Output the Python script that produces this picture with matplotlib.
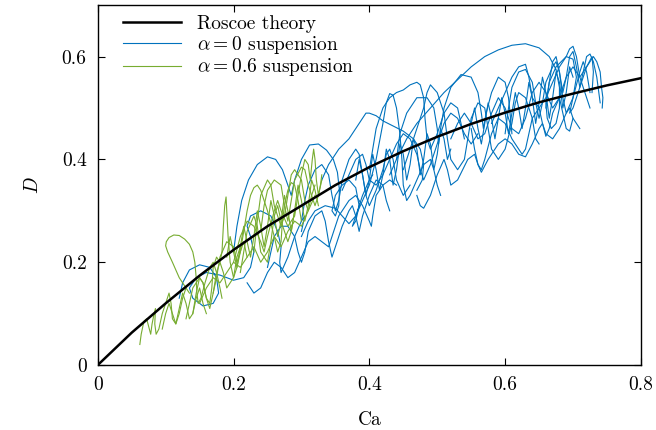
import matplotlib
matplotlib.use('Agg')
import matplotlib.pyplot as plt

plt.rcParams['font.family'] = ['cmr10', 'DejaVu Serif']
plt.rcParams['mathtext.fontset'] = 'cm'
plt.rcParams['axes.unicode_minus'] = False
plt.rcParams['axes.formatter.use_mathtext'] = True

# Roscoe theory curve
theory_ca = [0, 0.05, 0.1, 0.15, 0.2, 0.25, 0.3, 0.35, 0.4, 0.45, 0.5, 0.55, 0.6, 0.65, 0.7, 0.75, 0.8]
theory_d = [0, 0.063, 0.12, 0.174, 0.224, 0.27, 0.31, 0.35, 0.385, 0.416, 0.444, 0.469, 0.491, 0.511, 0.528, 0.544, 0.558]

# alpha = 0 suspension, one list per capsule
blue_ca = [
    [0.43, 0.44, 0.455, 0.47, 0.49, 0.51, 0.53, 0.55, 0.57, 0.59, 0.61, 0.63, 0.65, 0.665, 0.675, 0.68, 0.68, 0.675,
     0.668, 0.662, 0.66, 0.665, 0.675, 0.69, 0.70, 0.705, 0.70, 0.695, 0.70, 0.71, 0.72, 0.728, 0.73, 0.728],
    [0.12, 0.125, 0.135, 0.15, 0.165, 0.175, 0.178, 0.17, 0.155, 0.14, 0.135, 0.145, 0.16, 0.18, 0.2, 0.215, 0.225,
     0.23, 0.225, 0.22, 0.225, 0.24, 0.255, 0.265, 0.27, 0.268, 0.27, 0.28, 0.29, 0.30, 0.305, 0.30],
    [0.20, 0.205, 0.212, 0.222, 0.235, 0.25, 0.262, 0.272, 0.28, 0.285, 0.29, 0.30, 0.312, 0.325, 0.337, 0.347, 0.353,
     0.356, 0.355, 0.35, 0.345, 0.35, 0.36, 0.37, 0.38, 0.385, 0.38, 0.375, 0.38, 0.39, 0.40, 0.405],
    [0.30, 0.31, 0.32, 0.335, 0.35, 0.36, 0.37, 0.38, 0.39, 0.40, 0.41, 0.42, 0.425, 0.43, 0.435, 0.44, 0.445, 0.448,
     0.45, 0.455, 0.46, 0.47, 0.48, 0.49, 0.495, 0.5, 0.505],
    [0.33, 0.34, 0.355, 0.37, 0.38, 0.39, 0.395, 0.40, 0.41, 0.42, 0.435, 0.45, 0.465, 0.475, 0.48, 0.478, 0.47],
    [0.45, 0.46, 0.47, 0.48, 0.485, 0.49, 0.50, 0.51, 0.515, 0.52, 0.53, 0.54, 0.545, 0.55, 0.56, 0.57, 0.575, 0.58,
     0.59, 0.60, 0.61, 0.615, 0.62, 0.63, 0.64, 0.645, 0.65],
    [0.47, 0.475, 0.48, 0.49, 0.50, 0.51, 0.515, 0.52, 0.53, 0.545, 0.555, 0.56, 0.565, 0.575, 0.59, 0.60, 0.61, 0.62,
     0.63, 0.64, 0.65, 0.655, 0.66, 0.67, 0.68, 0.69, 0.695, 0.70, 0.71],
    [0.58, 0.59, 0.60, 0.61, 0.62, 0.63, 0.635, 0.64, 0.65, 0.66, 0.67, 0.68, 0.69, 0.695, 0.70, 0.705, 0.71, 0.72,
     0.73, 0.735, 0.74, 0.742, 0.744, 0.743],
    [0.22, 0.23, 0.24, 0.25, 0.26, 0.27, 0.28, 0.29, 0.30, 0.31, 0.32, 0.33, 0.34, 0.345, 0.35, 0.355, 0.36, 0.37,
     0.38, 0.39, 0.40, 0.403, 0.405, 0.41, 0.42, 0.43, 0.44],
    [0.36, 0.37, 0.38, 0.39, 0.395, 0.40, 0.41, 0.42, 0.43, 0.44, 0.45, 0.46, 0.47, 0.475, 0.48, 0.49, 0.50, 0.51,
     0.52, 0.53, 0.54, 0.55, 0.56],
    [0.52, 0.53, 0.54, 0.55, 0.56, 0.57, 0.58, 0.59, 0.60, 0.61, 0.62, 0.63, 0.64, 0.65, 0.66, 0.67, 0.68, 0.69,
     0.70, 0.71, 0.72, 0.725],
    [0.38, 0.385, 0.39, 0.395, 0.40, 0.405, 0.41, 0.415, 0.42, 0.425, 0.43, 0.435, 0.44, 0.445, 0.45, 0.455, 0.46,
     0.465, 0.47, 0.475, 0.48, 0.485, 0.49, 0.495, 0.50, 0.505, 0.51, 0.515, 0.52],
    [0.55, 0.555, 0.56, 0.565, 0.57, 0.575, 0.58, 0.585, 0.59, 0.595, 0.60, 0.605, 0.61, 0.615, 0.62, 0.625, 0.63,
     0.635, 0.64, 0.645, 0.65, 0.655, 0.66, 0.665, 0.67, 0.675, 0.68, 0.685, 0.69, 0.695, 0.70],
    [0.44, 0.445, 0.455, 0.47, 0.485, 0.495, 0.5, 0.502, 0.505, 0.51, 0.52, 0.535, 0.55, 0.56, 0.565, 0.568, 0.572,
     0.58, 0.59, 0.60, 0.605, 0.608, 0.61],
    [0.25, 0.255, 0.26, 0.27, 0.28, 0.29, 0.295, 0.30, 0.305, 0.31, 0.32, 0.33, 0.335, 0.34, 0.345, 0.35, 0.36, 0.37,
     0.375, 0.38, 0.385, 0.39, 0.40, 0.41, 0.42, 0.425, 0.43],
    [0.40, 0.405, 0.41, 0.42, 0.43, 0.44, 0.45, 0.46, 0.47, 0.475, 0.48, 0.482, 0.485, 0.49, 0.50, 0.51, 0.52, 0.53,
     0.535, 0.54],
    [0.66, 0.665, 0.67, 0.675, 0.68, 0.685, 0.69, 0.695, 0.70, 0.705, 0.71, 0.715, 0.72, 0.725, 0.73, 0.735, 0.738,
     0.74],
    [0.55, 0.555, 0.56, 0.565, 0.57, 0.58, 0.59, 0.60, 0.61, 0.62, 0.625, 0.63, 0.635, 0.64, 0.65, 0.655, 0.66, 0.665,
     0.67, 0.68, 0.685, 0.69, 0.695, 0.70],
    [0.30, 0.305, 0.31, 0.32, 0.33, 0.34, 0.345, 0.35, 0.355, 0.36, 0.37, 0.38, 0.385, 0.39, 0.395, 0.40, 0.41, 0.42,
     0.425, 0.43, 0.435, 0.44, 0.45, 0.46],
    [0.60, 0.605, 0.61, 0.62, 0.63, 0.64, 0.645, 0.65, 0.655, 0.66, 0.67, 0.675, 0.68, 0.685, 0.69, 0.70, 0.71, 0.715,
     0.72, 0.725],
]
blue_d = [
    [0.37, 0.40, 0.44, 0.47, 0.50, 0.53, 0.555, 0.58, 0.60, 0.613, 0.622, 0.625, 0.617, 0.60, 0.575, 0.54, 0.50, 0.47,
     0.46, 0.48, 0.51, 0.55, 0.58, 0.60, 0.595, 0.56, 0.52, 0.49, 0.50, 0.54, 0.58, 0.60, 0.57, 0.53],
    [0.13, 0.16, 0.185, 0.195, 0.19, 0.17, 0.14, 0.12, 0.115, 0.13, 0.15, 0.17, 0.18, 0.175, 0.165, 0.17, 0.19,
     0.22, 0.25, 0.27, 0.29, 0.30, 0.29, 0.26, 0.23, 0.20, 0.18, 0.21, 0.25, 0.28, 0.29, 0.26],
    [0.22, 0.27, 0.32, 0.36, 0.39, 0.405, 0.40, 0.38, 0.35, 0.33, 0.36, 0.40, 0.428, 0.43, 0.418, 0.40, 0.375,
     0.34, 0.31, 0.29, 0.30, 0.33, 0.35, 0.36, 0.345, 0.31, 0.28, 0.27, 0.29, 0.33, 0.36, 0.37],
    [0.25, 0.28, 0.30, 0.31, 0.305, 0.29, 0.275, 0.29, 0.32, 0.35, 0.40, 0.47, 0.51, 0.528, 0.525, 0.50, 0.45, 0.40,
     0.35, 0.32, 0.33, 0.36, 0.39, 0.40, 0.38, 0.35, 0.33],
    [0.36, 0.39, 0.42, 0.44, 0.46, 0.48, 0.49, 0.49, 0.485, 0.475, 0.465, 0.455, 0.44, 0.42, 0.39, 0.36, 0.34],
    [0.38, 0.42, 0.46, 0.50, 0.53, 0.545, 0.53, 0.49, 0.44, 0.40, 0.38, 0.40, 0.44, 0.48, 0.51, 0.50, 0.46, 0.42,
     0.40, 0.42, 0.47, 0.51, 0.53, 0.52, 0.48, 0.44, 0.43],
    [0.33, 0.31, 0.305, 0.33, 0.37, 0.40, 0.38, 0.35, 0.36, 0.40, 0.41, 0.39, 0.375, 0.40, 0.43, 0.44, 0.43, 0.41,
     0.405, 0.43, 0.46, 0.47, 0.45, 0.44, 0.46, 0.49, 0.50, 0.48, 0.46],
    [0.47, 0.50, 0.53, 0.56, 0.58, 0.585, 0.56, 0.52, 0.50, 0.52, 0.55, 0.58, 0.60, 0.615, 0.62, 0.60, 0.56, 0.58,
     0.60, 0.59, 0.57, 0.54, 0.52, 0.50],
    [0.16, 0.14, 0.15, 0.18, 0.20, 0.19, 0.17, 0.18, 0.21, 0.24, 0.25, 0.24, 0.23, 0.25, 0.27, 0.29, 0.30, 0.32,
     0.33, 0.31, 0.28, 0.27, 0.29, 0.33, 0.35, 0.36, 0.35],
    [0.34, 0.37, 0.40, 0.41, 0.39, 0.36, 0.35, 0.37, 0.40, 0.43, 0.45, 0.44, 0.41, 0.38, 0.36, 0.39, 0.43, 0.47,
     0.49, 0.48, 0.45, 0.43, 0.45],
    [0.44, 0.47, 0.49, 0.47, 0.44, 0.45, 0.49, 0.52, 0.50, 0.46, 0.45, 0.48, 0.53, 0.55, 0.53, 0.50, 0.52, 0.56,
     0.58, 0.56, 0.52, 0.50],
    [0.36, 0.40, 0.37, 0.33, 0.36, 0.41, 0.38, 0.34, 0.37, 0.42, 0.40, 0.35, 0.38, 0.43, 0.41, 0.36, 0.39, 0.44,
     0.42, 0.37, 0.40, 0.45, 0.43, 0.38, 0.41, 0.46, 0.44, 0.40, 0.42],
    [0.47, 0.50, 0.46, 0.43, 0.47, 0.51, 0.48, 0.44, 0.48, 0.52, 0.49, 0.45, 0.49, 0.53, 0.50, 0.46, 0.50, 0.55,
     0.52, 0.47, 0.51, 0.56, 0.53, 0.48, 0.52, 0.57, 0.55, 0.50, 0.53, 0.58, 0.56],
    [0.40, 0.45, 0.49, 0.52, 0.52, 0.50, 0.46, 0.43, 0.46, 0.50, 0.54, 0.565, 0.56, 0.53, 0.49, 0.46, 0.49, 0.53,
     0.56, 0.55, 0.52, 0.48, 0.45],
    [0.19, 0.22, 0.25, 0.27, 0.27, 0.25, 0.22, 0.20, 0.22, 0.26, 0.29, 0.30, 0.28, 0.24, 0.21, 0.23, 0.27, 0.30,
     0.31, 0.29, 0.26, 0.29, 0.33, 0.36, 0.35, 0.32, 0.30],
    [0.38, 0.42, 0.46, 0.50, 0.52, 0.53, 0.535, 0.545, 0.55, 0.545, 0.52, 0.48, 0.44, 0.42, 0.45, 0.49, 0.51, 0.50,
     0.47, 0.44],
    [0.50, 0.55, 0.59, 0.60, 0.57, 0.53, 0.56, 0.60, 0.61, 0.58, 0.54, 0.57, 0.60, 0.605, 0.59, 0.56, 0.53, 0.51],
    [0.46, 0.42, 0.39, 0.38, 0.40, 0.45, 0.48, 0.47, 0.44, 0.42, 0.41, 0.42, 0.45, 0.48, 0.50, 0.47, 0.445, 0.46,
     0.49, 0.52, 0.49, 0.46, 0.455, 0.48],
    [0.28, 0.32, 0.35, 0.38, 0.39, 0.37, 0.33, 0.30, 0.32, 0.36, 0.40, 0.42, 0.41, 0.37, 0.33, 0.31, 0.34, 0.38,
     0.41, 0.42, 0.40, 0.36, 0.33, 0.35],
    [0.45, 0.50, 0.54, 0.57, 0.575, 0.55, 0.51, 0.48, 0.51, 0.55, 0.58, 0.59, 0.57, 0.52, 0.49, 0.52, 0.57, 0.59,
     0.57, 0.53],
]

# alpha = 0.6 suspension
green_ca = [
    [0.062, 0.064, 0.068, 0.072, 0.075, 0.078, 0.08, 0.083, 0.085, 0.084, 0.086, 0.09, 0.095, 0.10, 0.105, 0.108,
     0.11, 0.115, 0.12, 0.125, 0.13, 0.135],
    [0.13, 0.12, 0.11, 0.103, 0.1, 0.101, 0.105, 0.112, 0.12, 0.128, 0.135, 0.14, 0.143, 0.145, 0.146, 0.148, 0.152,
     0.158, 0.165, 0.17, 0.175, 0.18, 0.183],
    [0.14, 0.145, 0.15, 0.155, 0.16, 0.165, 0.168, 0.17, 0.175, 0.18, 0.183, 0.185, 0.187, 0.189, 0.19, 0.192, 0.195,
     0.2, 0.205, 0.21, 0.215, 0.22],
    [0.17, 0.175, 0.18, 0.19, 0.2, 0.205, 0.21, 0.215, 0.22, 0.225, 0.23, 0.235, 0.24, 0.25, 0.26, 0.265, 0.27, 0.272,
     0.275, 0.28, 0.285, 0.29, 0.295, 0.30],
    [0.2, 0.21, 0.22, 0.23, 0.24, 0.245, 0.25, 0.26, 0.265, 0.27, 0.28, 0.29, 0.295, 0.30, 0.305, 0.31, 0.313, 0.316,
     0.318, 0.32, 0.322, 0.325, 0.328, 0.33],
    [0.15, 0.16, 0.17, 0.18, 0.19, 0.2, 0.21, 0.22, 0.23, 0.24, 0.25, 0.26, 0.27, 0.28, 0.29, 0.30, 0.31, 0.32],
    [0.23, 0.235, 0.24, 0.25, 0.255, 0.26, 0.27, 0.275, 0.28, 0.285, 0.29, 0.3, 0.305, 0.31, 0.315, 0.32],
    [0.19, 0.195, 0.2, 0.205, 0.21, 0.215, 0.22, 0.225, 0.23, 0.235, 0.24, 0.245, 0.25, 0.255, 0.26, 0.265, 0.27,
     0.275, 0.28, 0.285, 0.29, 0.295, 0.3, 0.305, 0.31, 0.315, 0.32, 0.325],
    [0.13, 0.135, 0.14, 0.15, 0.155, 0.16, 0.165, 0.17, 0.175, 0.18, 0.185, 0.19, 0.2, 0.205, 0.21],
    [0.24, 0.245, 0.25, 0.26, 0.27, 0.275, 0.28, 0.285, 0.29, 0.3, 0.305, 0.31, 0.32, 0.325, 0.33],
    [0.095, 0.1, 0.105, 0.11, 0.115, 0.12, 0.125, 0.13, 0.135, 0.14, 0.145, 0.15, 0.155, 0.16],
    [0.21, 0.215, 0.22, 0.23, 0.235, 0.24, 0.25, 0.255, 0.26, 0.265, 0.27, 0.28, 0.285, 0.29],
]
green_d = [
    [0.04, 0.06, 0.085, 0.09, 0.075, 0.06, 0.08, 0.10, 0.11, 0.08, 0.06, 0.07, 0.10, 0.12, 0.14, 0.12, 0.09, 0.08,
     0.10, 0.13, 0.15, 0.14],
    [0.15, 0.17, 0.20, 0.22, 0.232, 0.24, 0.248, 0.253, 0.252, 0.245, 0.235, 0.22, 0.20, 0.17, 0.14, 0.12, 0.13,
     0.16, 0.19, 0.20, 0.18, 0.15, 0.13],
    [0.10, 0.14, 0.17, 0.16, 0.13, 0.12, 0.15, 0.19, 0.21, 0.20, 0.22, 0.27, 0.31, 0.327, 0.30, 0.25, 0.20, 0.17,
     0.19, 0.22, 0.24, 0.21],
    [0.14, 0.17, 0.21, 0.24, 0.23, 0.20, 0.22, 0.26, 0.30, 0.33, 0.345, 0.35, 0.34, 0.30, 0.25, 0.22, 0.24, 0.28,
     0.31, 0.34, 0.355, 0.35, 0.32, 0.28],
    [0.20, 0.25, 0.28, 0.27, 0.24, 0.22, 0.25, 0.30, 0.32, 0.30, 0.27, 0.29, 0.33, 0.37, 0.40, 0.39, 0.36, 0.40,
     0.42, 0.40, 0.36, 0.33, 0.35, 0.37],
    [0.12, 0.15, 0.17, 0.16, 0.18, 0.20, 0.19, 0.21, 0.23, 0.20, 0.22, 0.25, 0.23, 0.26, 0.28, 0.27, 0.30, 0.33],
    [0.22, 0.28, 0.33, 0.36, 0.35, 0.31, 0.27, 0.29, 0.33, 0.37, 0.38, 0.36, 0.32, 0.30, 0.33, 0.35],
    [0.21, 0.25, 0.22, 0.19, 0.23, 0.27, 0.24, 0.21, 0.25, 0.30, 0.27, 0.23, 0.27, 0.32, 0.29, 0.25, 0.28, 0.33,
     0.30, 0.26, 0.30, 0.35, 0.32, 0.28, 0.31, 0.36, 0.34, 0.31],
    [0.09, 0.12, 0.15, 0.17, 0.16, 0.13, 0.11, 0.14, 0.18, 0.20, 0.18, 0.15, 0.17, 0.21, 0.23],
    [0.26, 0.31, 0.34, 0.36, 0.35, 0.31, 0.28, 0.32, 0.36, 0.385, 0.38, 0.35, 0.31, 0.33, 0.36],
    [0.07, 0.10, 0.12, 0.10, 0.08, 0.11, 0.14, 0.12, 0.09, 0.10, 0.13, 0.15, 0.12, 0.10],
    [0.18, 0.22, 0.26, 0.29, 0.27, 0.22, 0.20, 0.24, 0.29, 0.31, 0.28, 0.24, 0.26, 0.30],
]

xtick_vals = [0, 0.2, 0.4, 0.6, 0.8]
xtick_labels = ['0', '0.2', '0.4', '0.6', '0.8']
ytick_vals = [0, 0.2, 0.4, 0.6]
ytick_labels = ['0', '0.2', '0.4', '0.6']

blue = '#0072BD'
green = '#77AC30'

fig = plt.figure(figsize=(6.56, 4.30), dpi=100)
ax = fig.add_axes([0.149, 0.151, 0.828, 0.837])

for i in range(len(blue_ca)):
    ax.plot(blue_ca[i], blue_d[i], color=blue, lw=0.8,
            label=r'$\alpha = 0$ suspension' if i == 0 else None)
for i in range(len(green_ca)):
    ax.plot(green_ca[i], green_d[i], color=green, lw=0.8,
            label=r'$\alpha = 0.6$ suspension' if i == 0 else None)
ax.plot(theory_ca, theory_d, color='black', lw=1.8, label='Roscoe theory')

handles, labels = ax.get_legend_handles_labels()
order = [2, 0, 1]
ax.legend([handles[k] for k in order], [labels[k] for k in order], loc='upper left',
          bbox_to_anchor=(0.028, 1.0), frameon=False, fontsize=14, handlelength=3.0,
          borderaxespad=0.1, labelspacing=0.04, handletextpad=0.8)

ax.set_xlim(0, 0.8)
ax.set_ylim(0, 0.7)
ax.set_xticks(xtick_vals)
ax.set_xticklabels(xtick_labels)
ax.set_yticks(ytick_vals)
ax.set_yticklabels(ytick_labels)
ax.tick_params(direction='in', top=True, right=True, length=5, labelsize=14, pad=8)
for s in ax.spines.values():
    s.set_linewidth(1.0)
ax.set_xlabel('Ca', fontsize=14, labelpad=12)
ax.set_ylabel(r'$D$', fontsize=14, labelpad=14)

fig.savefig('out.png', dpi=100)
